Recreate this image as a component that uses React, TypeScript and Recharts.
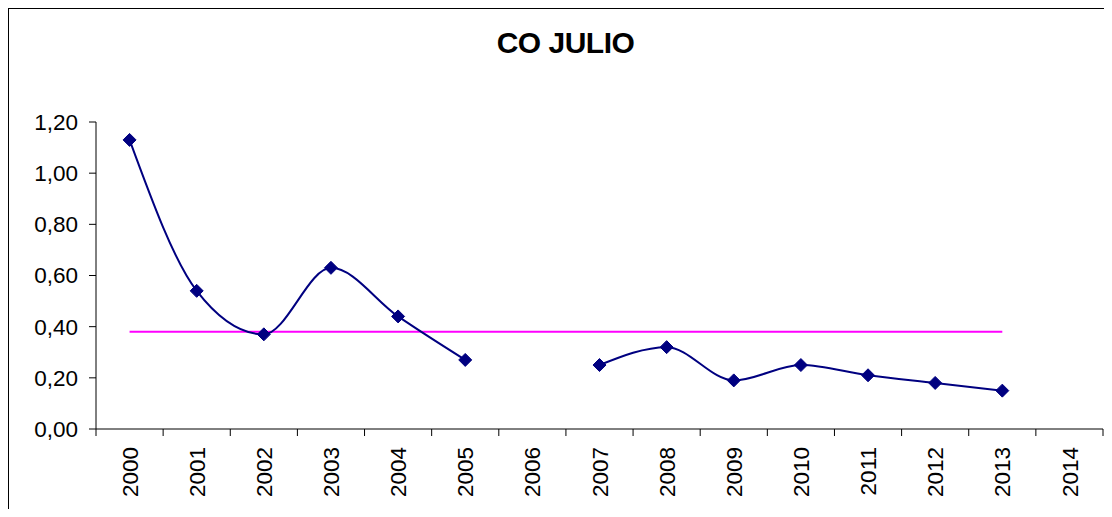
import React from 'react';
import { ComposedChart, Line, XAxis, YAxis } from 'recharts';

const years = ['2000', '2001', '2002', '2003', '2004', '2005', '2006', '2007', '2008', '2009', '2010', '2011', '2012', '2013', '2014'];
const coValues: (number | null)[] = [1.13, 0.54, 0.37, 0.63, 0.44, 0.27, null, 0.25, 0.32, 0.19, 0.25, 0.21, 0.18, 0.15, null];
const meanValues: (number | null)[] = [0.38, 0.38, 0.38, 0.38, 0.38, 0.38, 0.38, 0.38, 0.38, 0.38, 0.38, 0.38, 0.38, 0.38, null];
const yTicks = [0, 0.2, 0.4, 0.6, 0.8, 1.0, 1.2];
const title = 'CO JULIO';

const data = years.map((year, i) => ({ idx: i, year, co: coValues[i], mean: meanValues[i] }));

// tick positions: integers carry the year labels, half-integers carry the tick marks (between categories)
const xTicks: number[] = [];
for (let i = 0; i <= years.length * 2; i++) xTicks.push(i / 2 - 0.5);

const FONT = '"Liberation Sans", Arial, sans-serif';
const TICK_FONT_SIZE = 22.5;

const XTick = (props: any) => {
  const { x, y, payload } = props;
  const v = payload.value as number;
  if (Number.isInteger(v)) {
    const ty = y + 18;
    return (
      <text
        x={x}
        y={ty}
        dy="0.36em"
        transform={`rotate(-90, ${x}, ${ty})`}
        textAnchor="end"
        fontSize={TICK_FONT_SIZE}
        fontFamily={FONT}
        fill="#000"
      >
        {years[v]}
      </text>
    );
  }
  return <line x1={x} y1={y} x2={x} y2={y + 7} stroke="#000" strokeWidth={1} />;
};

const Diamond = (props: any) => {
  const { cx, cy, value, index } = props;
  if (cx == null || cy == null || value == null) return <g key={`d-${index}`} />;
  const r = 6.5;
  return (
    <polygon
      key={`d-${index}`}
      points={`${cx},${cy - r} ${cx + r},${cy} ${cx},${cy + r} ${cx - r},${cy}`}
      fill="#000080"
      stroke="#000080"
      strokeWidth={1}
    />
  );
};

export default function App() {
  return (
    <div style={{ position: 'relative', width: 1112, height: 517, margin: -8, overflow: 'hidden', background: '#fff' }}>
      <div
        style={{
          position: 'absolute',
          left: 7,
          top: 7,
          width: 1200,
          height: 600,
          border: '2px solid #000',
        }}
      />
      <div
        style={{
          position: 'absolute',
          left: 0,
          top: 28,
          width: 1131,
          textAlign: 'center',
          fontFamily: FONT,
          fontWeight: 'bold',
          fontSize: 30,
          lineHeight: '30px',
          letterSpacing: -0.5,
          color: '#000',
        }}
      >
        {title}
      </div>
      <div style={{ position: 'absolute', left: 0, top: 0 }}>
        <ComposedChart width={1112} height={517} data={data} margin={{ top: 122, right: 9, bottom: 0, left: 0 }}>
          <XAxis
            dataKey="idx"
            type="number"
            domain={[-0.5, years.length - 0.5]}
            ticks={xTicks}
            interval={0}
            allowDataOverflow
            height={88}
            tickSize={0}
            tickMargin={0}
            tickLine={false}
            axisLine={{ stroke: '#000', strokeWidth: 1 }}
            tick={<XTick />}
          />
          <YAxis
            type="number"
            domain={[0, 1.2]}
            ticks={yTicks}
            interval={0}
            width={96}
            tickSize={7}
            tickMargin={11}
            axisLine={{ stroke: '#000', strokeWidth: 1 }}
            tickLine={{ stroke: '#000', strokeWidth: 1 }}
            tick={{ fill: '#000', fontSize: TICK_FONT_SIZE, fontFamily: FONT }}
            tickFormatter={(v: number) => v.toFixed(2).replace('.', ',')}
          />
          <Line
            dataKey="mean"
            type="linear"
            stroke="#FF00FF"
            strokeWidth={2}
            dot={false}
            activeDot={false}
            isAnimationActive={false}
          />
          <Line
            dataKey="co"
            type="monotone"
            stroke="#000080"
            strokeWidth={2}
            dot={Diamond}
            activeDot={false}
            connectNulls={false}
            isAnimationActive={false}
          />
        </ComposedChart>
      </div>
    </div>
  );
}
